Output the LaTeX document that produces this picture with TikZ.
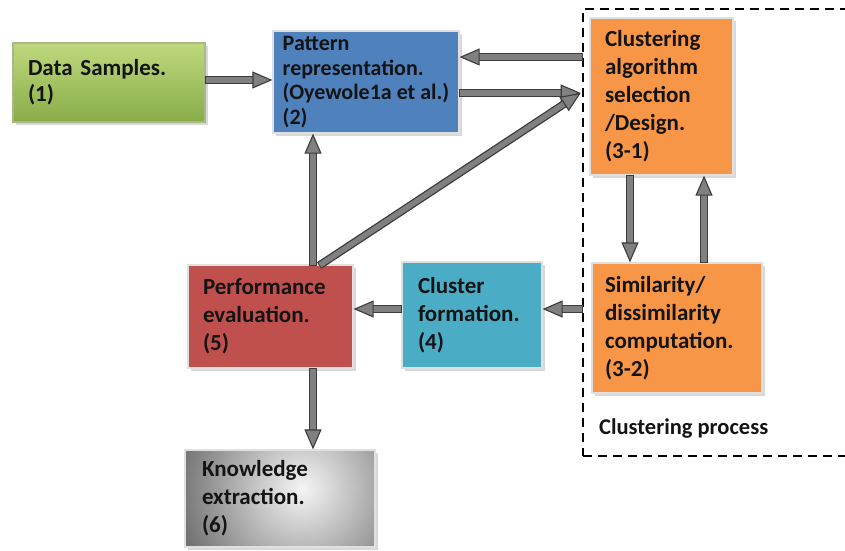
\documentclass[tikz,border=0pt]{standalone}
\usepackage{fontspec}
\setmainfont{Carlito}
\usetikzlibrary{arrows.meta,shadows}
\definecolor{greenL}{RGB}{190,217,125}
\definecolor{greenD}{RGB}{137,172,72}
\definecolor{patblue}{RGB}{79,129,189}
\definecolor{algorange}{RGB}{247,150,70}
\definecolor{perfred}{RGB}{192,80,77}
\definecolor{cfblue}{RGB}{75,172,198}
\definecolor{arrowgray}{RGB}{128,128,128}
\definecolor{arrowdark}{RGB}{60,60,60}
\definecolor{txt}{RGB}{20,20,20}
\begin{document}
\begin{tikzpicture}[x=1pt,y=-1pt,
  box/.style={rectangle, draw=black!12, line width=1.2pt, align=left,
    font=\bfseries\fontsize{23}{28}\selectfont, text=txt,
    inner xsep=15pt, inner ysep=0pt,
    drop shadow={shadow xshift=2.5pt,shadow yshift=-2.5pt,fill=black!30,opacity=0.5}},
  barrow/.style={draw=arrowgray, line width=5.4pt,
    -{Triangle[length=20pt,width=17pt,line width=1.1pt,fill=arrowgray,color=arrowdark]},
    preaction={draw=arrowdark, line width=8pt, -, shorten >=18pt, shorten <=-1pt}},
  procbox/.style={rectangle, draw=black, line width=2.6pt, dash pattern=on 9pt off 6pt, inner sep=0pt}
]
\useasboundingbox (0,0) rectangle (845,550);

% dashed clustering process frame
\node[procbox, minimum width=277pt, minimum height=447pt] (proc) at (721.5,232.5) {};
\node[anchor=base west, font=\bfseries\fontsize{22.5}{26}\selectfont, text=txt, inner sep=0pt] (proclab) at (599,434) {Clustering process};

% boxes
\node[box, top color=greenL, bottom color=greenD, draw=greenD!80!black!60, minimum width=192pt, minimum height=79pt, text width=162pt,
  font=\bfseries\fontsize{23}{26}\selectfont] (data) at (109,82.5) {Data Samples.\\(1)};
\node[box, fill=patblue, minimum width=186pt, minimum height=102pt, inner xsep=2pt,
  font=\bfseries\fontsize{22}{24.5}\selectfont] (pat) at (366,82) {Pattern\\representation.\\(Oyewole1a et al.)\\(2)};
\node[box, fill=algorange, minimum width=143pt, minimum height=157pt, text width=113pt] (alg) at (661.5,96.5)
  {Clustering\\algorithm\\selection\\/Design.\\(3-1)};
\node[box, fill=algorange, minimum width=170pt, minimum height=130pt, inner xsep=13pt, text width=144pt] (sim) at (677,328)
  {Similarity/\\dissimilarity\\computation.\\(3-2)};
\node[box, fill=perfred, minimum width=165pt, minimum height=103pt, text width=135pt] (perf) at (270.5,316.5)
  {Performance\\evaluation.\\(5)};
\node[box, fill=cfblue, minimum width=140pt, minimum height=106pt, inner xsep=16pt, text width=108pt] (cf) at (472,315)
  {Cluster\\formation.\\(4)};
\node[box, fill=black!55, minimum width=190pt, minimum height=97pt, inner xsep=17pt, text width=156pt,
  path picture={\shade[inner color=white!96!black, outer color=black!55]
    ([xshift=22pt,yshift=10pt]path picture bounding box.center) circle (125pt);}] (know) at (280,498.5)
  {Knowledge\\extraction.\\(6)};

% connector anchor points
\coordinate (dA) at (proc.west |- 0,57);
\coordinate (dB) at (proc.west |- 0,93);
\coordinate (dC) at (proc.west |- 0,309);
\coordinate (pu) at (313,265);
\coordinate (pd) at (320,265);

% connectors
\draw[barrow] (data.east |- 0,80) -- (pat.west |- 0,80);
\draw[barrow] (dA) -- (pat.east |- dA);
\draw[barrow] (pat.east |- dB) -- ([xshift=-1pt]dB);
\draw[barrow] (pu) -- (pu |- pat.south);
\draw[barrow] (pd) -- ([xshift=-1pt]dB);
\draw[barrow] ([xshift=-31.5pt]alg.south) -- ([xshift=-31.5pt]alg.south |- sim.north);
\draw[barrow] ([xshift=42.5pt]alg.south |- sim.north) -- ([xshift=42.5pt]alg.south);
\draw[barrow] (dC) -- (cf.east |- dC);
\draw[barrow] (cf.west |- dC) -- (perf.east |- dC);
\draw[barrow] (pu |- perf.south) -- (pu |- know.north);
\end{tikzpicture}
\end{document}
